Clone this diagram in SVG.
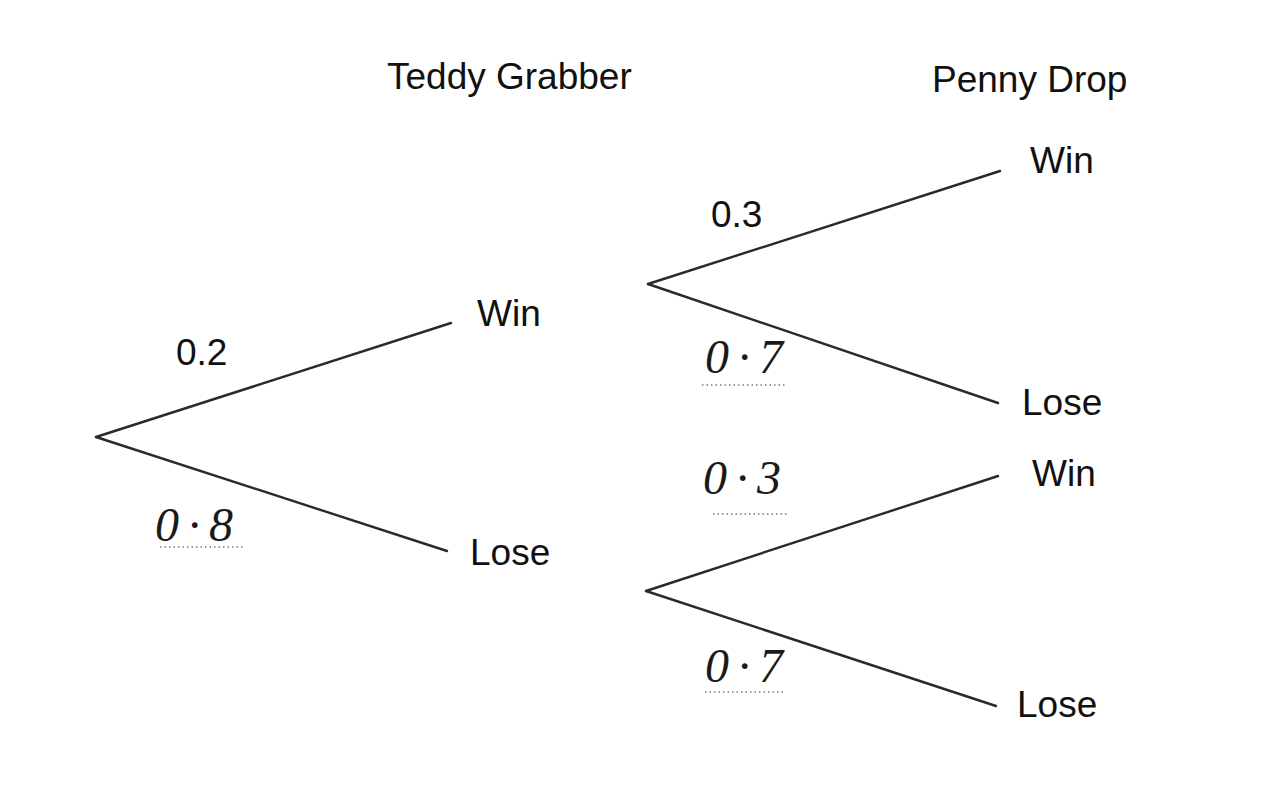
<svg xmlns="http://www.w3.org/2000/svg" width="1261" height="792" viewBox="0 0 1261 792">
<style>
.t{font-family:"Liberation Sans",Arial,sans-serif;font-size:37px;fill:#111}
.h{font-family:"Liberation Serif","DejaVu Serif",serif;font-style:italic;font-size:48px;letter-spacing:9px;fill:#1a1a1a}
.e{stroke:#2a2a2a;stroke-width:2.4;fill:none;stroke-linecap:round}
.d{stroke:#777;stroke-width:1.6;stroke-dasharray:1.5 3;fill:none}
</style>
<rect width="1261" height="792" fill="#fff"/>
<g id="connectors">
<line class="e" x1="96" y1="437" x2="451" y2="323"/>
<line class="e" x1="96" y1="437" x2="447" y2="551"/>
<line class="e" x1="648" y1="284" x2="1000" y2="171"/>
<line class="e" x1="648" y1="284" x2="998" y2="403"/>
<line class="e" x1="646" y1="591" x2="998" y2="476"/>
<line class="e" x1="646" y1="591" x2="996" y2="706"/>
</g>
<g id="headers">
<text class="t" x="387" y="89">Teddy Grabber</text>
<text class="t" x="932" y="92">Penny Drop</text>
</g>
<g id="tg-win"><text class="t" x="477" y="326">Win</text></g>
<g id="tg-lose"><text class="t" x="470" y="565">Lose</text></g>
<g id="pd-win-1"><text class="t" x="1030" y="173">Win</text></g>
<g id="pd-lose-1"><text class="t" x="1022" y="415">Lose</text></g>
<g id="pd-win-2"><text class="t" x="1032" y="486">Win</text></g>
<g id="pd-lose-2"><text class="t" x="1017" y="717">Lose</text></g>
<g id="labels">
<text class="t" x="176" y="365">0.2</text>
<text class="t" x="711" y="227">0.3</text>
<text class="h" x="155" y="541">0·8</text>
<line class="d" x1="160" y1="547" x2="243" y2="547"/>
<text class="h" x="705" y="373">0·7</text>
<line class="d" x1="702" y1="385" x2="787" y2="385"/>
<text class="h" x="703" y="494">0·3</text>
<line class="d" x1="713" y1="514" x2="787" y2="514"/>
<text class="h" x="705" y="682">0·7</text>
<line class="d" x1="705" y1="692" x2="785" y2="692"/>
</g>
</svg>
